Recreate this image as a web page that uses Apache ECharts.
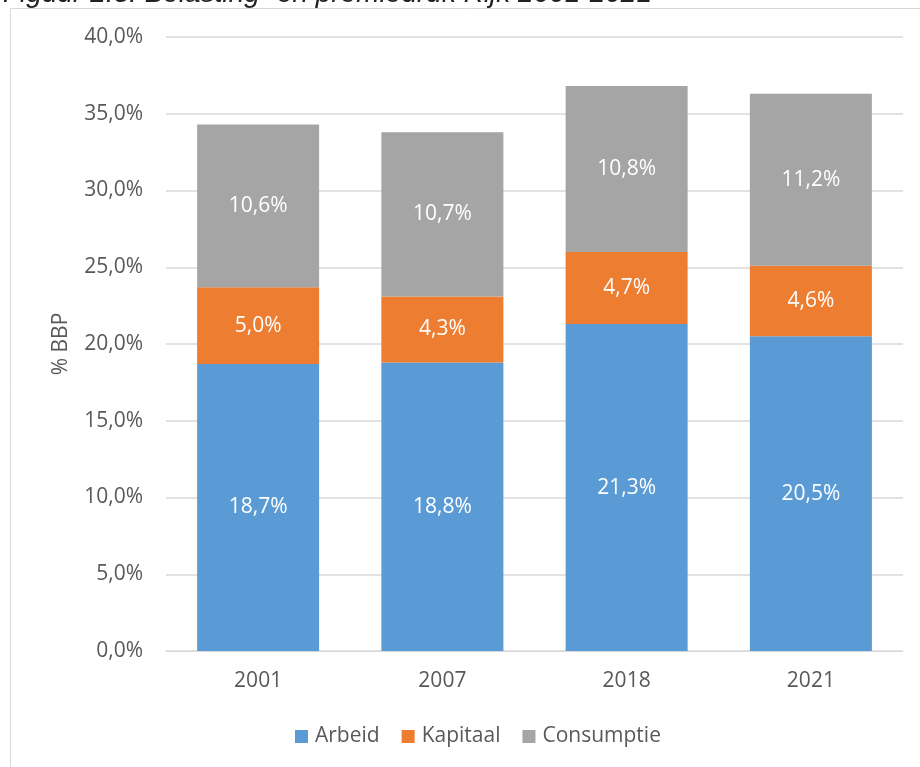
<!DOCTYPE html>
<html>
<head>
<meta charset="utf-8">
<script src="https://cdn.jsdelivr.net/npm/echarts@6/dist/echarts.min.js"></script>
<style>
  html, body { margin: 0; padding: 0; background: #fff; }
  #chart { width: 920px; height: 767px; }
</style>
</head>
<body>
<div id="chart"></div>
<script>
// gegevens uit de figuur
var jaren = ["2001", "2007", "2018", "2021"];
var arbeid = [18.7, 18.8, 21.3, 20.5];
var kapitaal = [5.0, 4.3, 4.7, 4.6];
var consumptie = [10.6, 10.7, 10.8, 11.2];
var titel = "Figuur 2.3: Belasting- en premiedruk Rijk 2001-2021";

var font = "'Open Sans', sans-serif";

function pct(v) {
  return v.toFixed(1).replace(".", ",") + "%";
}

function serie(naam, data, kleur) {
  return {
    name: naam,
    type: "bar",
    stack: "totaal",
    barWidth: 122,
    data: data,
    itemStyle: { color: kleur },
    label: {
      show: true,
      position: "inside",
      color: "#fff",
      fontSize: 21,
      fontFamily: font,
      formatter: function (p) { return pct(p.value); }
    }
  };
}

var myChart = echarts.init(document.getElementById("chart"), null, { renderer: "canvas" });
myChart.setOption({
  animation: false,
  backgroundColor: "#fff",
  graphic: [
    {
      type: "rect",
      shape: { x: 10.5, y: 8.5, width: 920, height: 770 },
      style: { fill: "none", stroke: "#d9d9d9", lineWidth: 1 },
      silent: true
    },
    {
      type: "text",
      x: 3,
      y: 8,
      style: {
        text: titel,
        font: "italic 28px 'Liberation Sans', Arial, sans-serif",
        fill: "#222",
        verticalAlign: "bottom"
      }
    }
  ],
  grid: { left: 166, right: 17, top: 37, bottom: 116 },
  legend: {
    bottom: 15,
    left: 290,
    itemWidth: 13,
    itemHeight: 13,
    itemGap: 22,
    icon: "rect",
    textStyle: { fontSize: 21, color: "#595959", fontFamily: font, padding: [0, 0, 0, 2] },
    data: ["Arbeid", "Kapitaal", "Consumptie"]
  },
  xAxis: {
    type: "category",
    data: jaren,
    axisLine: { lineStyle: { color: "#d9d9d9", width: 1 } },
    axisTick: { show: false },
    axisLabel: { color: "#595959", fontSize: 21, fontFamily: font, margin: 20 }
  },
  yAxis: {
    type: "value",
    min: 0,
    max: 40,
    interval: 5,
    name: "% BBP",
    nameLocation: "middle",
    nameGap: 94,
    nameTextStyle: { color: "#595959", fontSize: 21, fontFamily: font },
    axisLine: { show: false },
    axisTick: { show: false },
    splitLine: { lineStyle: { color: "#d9d9d9", width: 1.5 } },
    axisLabel: {
      color: "#595959",
      fontSize: 21,
      fontFamily: font,
      margin: 23,
      formatter: function (v) { return pct(v); }
    }
  },
  series: [
    serie("Arbeid", arbeid, "#5B9BD5"),
    serie("Kapitaal", kapitaal, "#ED7D31"),
    serie("Consumptie", consumptie, "#A5A5A5")
  ]
});
</script>
</body>
</html>
